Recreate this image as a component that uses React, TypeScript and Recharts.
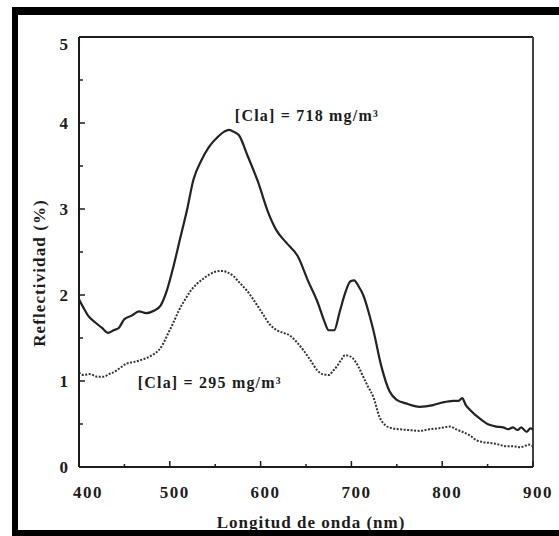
import React from "react";
import {
  LineChart,
  Line,
  XAxis,
  YAxis,
  ReferenceLine,
  ReferenceDot,
} from "recharts";

// [Cla] = 718 mg/m3 (solid)
const highNm = [
  400, 405, 410, 418, 425, 432, 438, 444, 450, 458, 466, 474, 483, 490, 497,
  504, 511, 519, 526, 535, 543, 553, 560, 565, 570, 576, 586, 597, 608, 617,
  629, 641, 652, 663, 670, 675, 681, 687, 693, 699, 703, 708, 713, 719, 724,
  733, 742, 750, 760, 775, 790, 800, 812, 818, 822, 826, 831, 843, 852, 860,
  867, 873, 878, 883, 887, 893, 897, 900,
];
const highValues = [
  1.95, 1.85, 1.76, 1.68, 1.62, 1.56, 1.59, 1.62, 1.72, 1.76, 1.81, 1.79, 1.82,
  1.88, 2.06, 2.33, 2.64, 2.99, 3.34, 3.57, 3.72, 3.84, 3.9, 3.92, 3.9, 3.86,
  3.61, 3.32, 2.97, 2.76, 2.6, 2.45, 2.17, 1.91, 1.7, 1.59, 1.59, 1.8, 2.02,
  2.16, 2.17, 2.1, 2.0, 1.8, 1.6, 1.17, 0.88, 0.78, 0.74, 0.7, 0.72, 0.75,
  0.77, 0.77, 0.8, 0.72, 0.66, 0.55, 0.49, 0.47, 0.46, 0.44, 0.46, 0.43, 0.46,
  0.41, 0.45, 0.44,
];

// [Cla] = 295 mg/m3 (dotted)
const lowNm = [
  400, 405, 412, 420, 427, 433, 438, 445, 452, 460, 467, 475, 482, 488, 493,
  498, 504, 510, 517, 523, 530, 537, 544, 550, 557, 564, 570, 577, 585, 595,
  603, 610, 618, 625, 632, 640, 647, 655, 662, 668, 675, 680, 684, 689, 693,
  698, 702, 708, 713, 718, 724, 731, 738, 745, 752, 763, 775, 786, 796, 809,
  815, 822, 830, 838, 845, 852, 859, 866, 872, 879, 886, 892, 896, 900,
];
const lowValues = [
  1.1, 1.07, 1.08, 1.05, 1.05, 1.08, 1.1, 1.15, 1.2, 1.22, 1.24, 1.27, 1.31,
  1.36, 1.44, 1.55, 1.68, 1.82, 1.95, 2.05, 2.13, 2.19, 2.24, 2.27, 2.28, 2.26,
  2.22, 2.14, 2.05, 1.9, 1.77, 1.66, 1.59, 1.56, 1.53, 1.45, 1.36, 1.24, 1.13,
  1.08, 1.07, 1.12, 1.17, 1.25, 1.3, 1.29, 1.26, 1.16, 1.05, 0.94, 0.82, 0.58,
  0.48, 0.45, 0.44, 0.43, 0.42, 0.44, 0.45, 0.47, 0.44, 0.41, 0.37, 0.31, 0.29,
  0.28, 0.27, 0.25, 0.24, 0.24, 0.23, 0.25, 0.26, 0.24,
];

const xTicks = [400, 450, 500, 550, 600, 650, 700, 750, 800, 850, 900];
const yTicks = [0, 0.5, 1, 1.5, 2, 2.5, 3, 3.5, 4, 4.5, 5];

const highData = highNm.map((nm, i) => ({ nm, v: highValues[i] }));
const lowData = lowNm.map((nm, i) => ({ nm, v: lowValues[i] }));

const FONT = "'Liberation Serif', 'Times New Roman', serif";
const INK = "#1c1c1c";

const XTick = (props: any) => {
  const { x, y, payload } = props;
  const major = payload.value % 100 === 0;
  return (
    <g>
      <line x1={x} x2={x} y1={y} y2={y - (major ? 6 : 3)} stroke={INK} strokeWidth={1.5} />
      {major && (
        <text
          x={x + (payload.value === 400 ? 9 : 5)}
          y={y + 31}
          textAnchor="middle"
          fontFamily={FONT}
          fontWeight="bold"
          fontSize={17}
          letterSpacing={1.5}
          fill={INK}
        >
          {payload.value}
        </text>
      )}
    </g>
  );
};

const YTick = (props: any) => {
  const { x, y, payload } = props;
  const major = Number.isInteger(payload.value);
  return (
    <g>
      <line x1={x} x2={x + (major ? 6 : 4)} y1={y} y2={y} stroke={INK} strokeWidth={1.5} />
      {major && (
        <text
          x={x - 11}
          y={y + (payload.value === 5 ? 13 : 6)}
          textAnchor="end"
          fontFamily={FONT}
          fontWeight="bold"
          fontSize={17}
          fill={INK}
        >
          {payload.value}
        </text>
      )}
    </g>
  );
};

const note = (text: string) => (p: any) => {
  const vb = p.viewBox || {};
  return (
    <text
      x={vb.x}
      y={vb.y + 5}
      textAnchor="middle"
      fontFamily={FONT}
      fontWeight="bold"
      fontSize={16}
      letterSpacing={1.2}
      fill={INK}
    >
      {text}
    </text>
  );
};

export default function App() {
  return (
    <div
      style={{
        position: "absolute",
        left: 0,
        top: 0,
        width: 559,
        height: 536,
        overflow: "hidden",
        background: "#fff",
      }}
    >
      <LineChart
        width={559}
        height={536}
        margin={{ top: 37, right: 26, left: 0, bottom: 0 }}
      >
        <XAxis
          dataKey="nm"
          type="number"
          domain={[400, 900]}
          ticks={xTicks}
          interval={0}
          allowDataOverflow
          height={69}
          tickSize={0}
          tickMargin={0}
          tickLine={false}
          tick={<XTick />}
          axisLine={{ stroke: INK, strokeWidth: 2 }}
          label={(p: any) => {
            const vb = p.viewBox;
            return (
              <text
                x={vb.x + vb.width / 2 + 5}
                y={vb.y + 61}
                textAnchor="middle"
                fontFamily={FONT}
                fontWeight="bold"
                fontSize={17}
                letterSpacing={1}
                fill={INK}
              >
                Longitud de onda (nm)
              </text>
            );
          }}
        />
        <YAxis
          type="number"
          domain={[0, 5]}
          ticks={yTicks}
          interval={0}
          allowDataOverflow
          width={79}
          tickSize={0}
          tickMargin={0}
          tickLine={false}
          tick={<YTick />}
          axisLine={{ stroke: INK, strokeWidth: 2 }}
          label={(p: any) => {
            const vb = p.viewBox;
            const cx = vb.x + 39;
            const cy = vb.y + vb.height / 2 + 21;
            return (
              <text
                x={cx}
                y={cy}
                transform={`rotate(-90 ${cx} ${cy})`}
                textAnchor="middle"
                dominantBaseline="central"
                fontFamily={FONT}
                fontWeight="bold"
                fontSize={17}
                letterSpacing={1.1}
                fill={INK}
              >
                Reflectividad (%)
              </text>
            );
          }}
        />
        <ReferenceLine y={5} stroke={INK} strokeWidth={2} />
        <ReferenceLine x={900} stroke="#444" strokeWidth={2} />
        <Line
          data={highData}
          dataKey="v"
          type="monotone"
          stroke="#222"
          strokeWidth={2.2}
          dot={false}
          isAnimationActive={false}
        />
        <Line
          data={lowData}
          dataKey="v"
          type="monotone"
          stroke="#333"
          strokeWidth={2}
          strokeDasharray="2 1.5"
          dot={false}
          isAnimationActive={false}
        />
        <ReferenceDot
          x={651}
          y={4.08}
          r={0}
          stroke="none"
          fill="none"
          label={note("[Cla] = 718 mg/m³")}
        />
        <ReferenceDot
          x={544}
          y={0.98}
          r={0}
          stroke="none"
          fill="none"
          label={note("[Cla] = 295 mg/m³")}
        />
      </LineChart>
      <div
        style={{
          position: "absolute",
          left: 12,
          top: 7,
          width: 541,
          height: 515,
          borderLeft: "6px solid #000",
          borderTop: "8px solid #000",
          borderBottom: "6px solid #000",
          pointerEvents: "none",
        }}
      />
    </div>
  );
}
